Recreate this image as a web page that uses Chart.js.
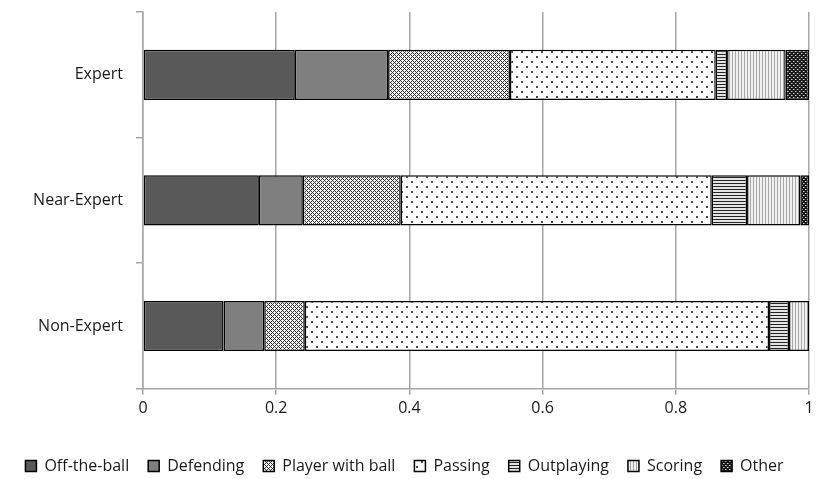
<!DOCTYPE html>
<html>
<head>
<meta charset="utf-8">
<script src="https://cdn.jsdelivr.net/npm/chart.js@4/dist/chart.umd.min.js"></script>
<style>
  html, body { margin: 0; padding: 0; background: #fff; }
  #wrap { width: 818px; height: 479px; }
</style>
</head>
<body>
<div id="wrap"><canvas id="myBarChart" width="818" height="479"></canvas></div>
<script>
// Categories (top to bottom)
const groups = ['Expert', 'Near-Expert', 'Non-Expert'];

// Proportion of each action type per group
const offTheBall     = [0.228, 0.174, 0.121];
const defending      = [0.140, 0.066, 0.061];
const playerWithBall = [0.183, 0.147, 0.061];
const passing        = [0.309, 0.467, 0.697];
const outplaying     = [0.017, 0.053, 0.030];
const scoring        = [0.088, 0.080, 0.030];
const other          = [0.035, 0.013, 0.000];

const xTicks = [0, 0.2, 0.4, 0.6, 0.8, 1];

// small canvas tiles used as fill patterns
function makePattern(w, h, draw) {
  const c = document.createElement('canvas');
  c.width = w;
  c.height = h;
  const g = c.getContext('2d');
  draw(g);
  return g.createPattern(c, 'repeat');
}

// diagonal grid, dark lines with white crosses between
const checkPattern = makePattern(4, 4, g => {
  g.fillStyle = '#f4f4f4';
  g.fillRect(0, 0, 4, 4);
  g.fillStyle = '#333333';
  [[0, 0], [1, 1], [2, 2], [3, 3], [1, 3], [3, 1]].forEach(p => g.fillRect(p[0], p[1], 1, 1));
});

const dotPattern = makePattern(10, 10, g => {
  g.fillStyle = '#ffffff';
  g.fillRect(0, 0, 10, 10);
  g.fillStyle = '#4a4a4a';
  g.fillRect(1, 1, 2, 2);
  g.fillRect(6, 6, 2, 2);
});

const hStripePattern = makePattern(3, 3, g => {
  g.fillStyle = '#e4e4e4';
  g.fillRect(0, 0, 3, 3);
  g.fillStyle = '#222222';
  g.fillRect(0, 0, 3, 1);
});

const vStripePattern = makePattern(3, 3, g => {
  g.fillStyle = '#f0f0f0';
  g.fillRect(0, 0, 3, 3);
  g.fillStyle = '#a8a8a8';
  g.fillRect(0, 0, 1, 3);
});

const darkCheckPattern = makePattern(4, 4, g => {
  g.fillStyle = '#1a1a1a';
  g.fillRect(0, 0, 4, 4);
  g.fillStyle = '#c8c8c8';
  g.fillRect(1, 1, 1, 1);
  g.fillRect(3, 3, 1, 1);
  g.fillStyle = '#777777';
  g.fillRect(2, 1, 1, 1);
  g.fillRect(0, 3, 1, 1);
});

function series(label, data, fill) {
  return {
    label: label,
    data: data,
    backgroundColor: fill,
    borderColor: '#000000',
    borderWidth: 1.5,
    borderSkipped: false,
    barPercentage: 0.4,
    categoryPercentage: 1.0
  };
}

const data = {
  labels: groups,
  datasets: [
    series('Off-the-ball', offTheBall, '#595959'),
    series('Defending', defending, '#7f7f7f'),
    series('Player with ball', playerWithBall, checkPattern),
    series('Passing', passing, dotPattern),
    series('Outplaying', outplaying, hStripePattern),
    series('Scoring', scoring, vStripePattern),
    series('Other', other, darkCheckPattern)
  ]
};

const fontFamily = '"Open Sans", Lato, sans-serif';

const options = {
  indexAxis: 'y',
  responsive: false,
  animation: false,
  layout: { padding: { top: 12, right: 9, left: 0, bottom: -5 } },
  scales: {
    x: {
      stacked: true,
      min: 0,
      max: 1,
      afterBuildTicks: axis => { axis.ticks = xTicks.map(v => ({ value: v })); },
      afterFit: axis => { axis.height += 17; },
      ticks: {
        color: '#1a1a1a',
        font: { family: fontFamily, size: 16 },
        padding: 4,
        callback: v => String(v)
      },
      grid: { color: '#a6a6a6', lineWidth: 1.5, tickLength: 6 },
      border: { display: true, color: '#a6a6a6', width: 1.5 }
    },
    y: {
      stacked: true,
      afterFit: axis => {
        axis.width = 143;
        axis.paddingTop = 0;
        axis.paddingBottom = 0;
      },
      ticks: {
        color: '#1a1a1a',
        font: { family: fontFamily, size: 16 },
        padding: 13
      },
      grid: { drawOnChartArea: false, color: '#a6a6a6', lineWidth: 1.5, tickLength: 7 },
      border: { display: true, color: '#a6a6a6', width: 1.5 }
    }
  },
  plugins: {
    tooltip: { enabled: false },
    legend: {
      position: 'bottom',
      labels: {
        color: '#1a1a1a',
        font: { family: fontFamily, size: 16 },
        boxWidth: 11,
        boxHeight: 11,
        padding: 19
      }
    }
  }
};

const ctx = document.getElementById('myBarChart').getContext('2d');
const myBarChart = new Chart(ctx, {
  type: 'bar',
  data: data,
  options: options
});
</script>
</body>
</html>
